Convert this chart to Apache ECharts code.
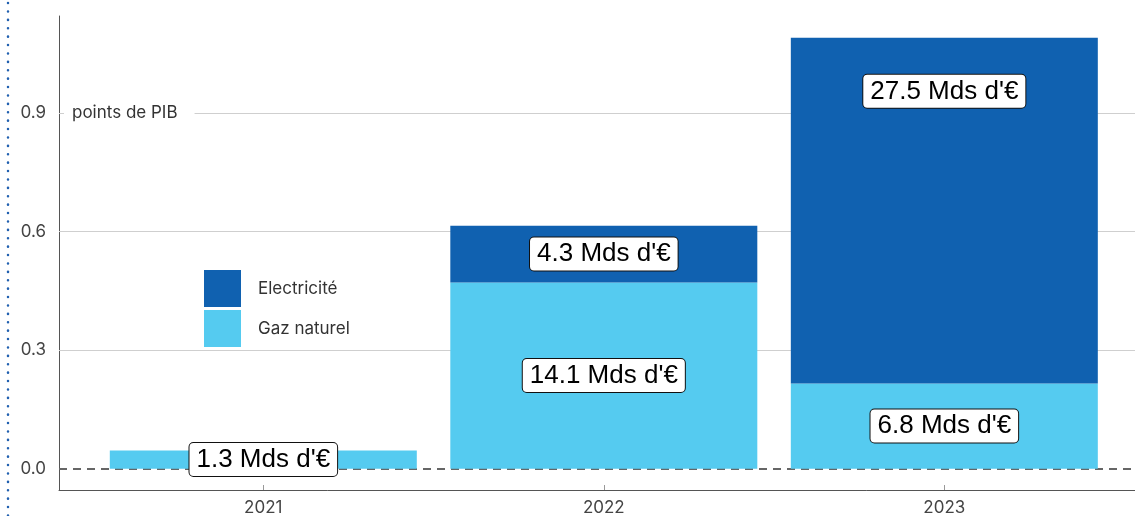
<!DOCTYPE html>
<html>
<head>
<meta charset="utf-8">
<script src="https://cdn.jsdelivr.net/npm/echarts@6/dist/echarts.min.js"></script>
<style>
html,body{margin:0;padding:0;background:#fff;}
#chart{width:1135px;height:516px;}
</style>
</head>
<body>
<div id="chart"></div>
<script>
// Coût des mesures, en points de PIB, par année
const years = ['2021', '2022', '2023'];
const gazValues = [0.046, 0.471, 0.2155];
const elecValues = [0, 0.1435, 0.8745];
const gazAmounts = ['1.3', '14.1', '6.8'];
const elecAmounts = [null, '4.3', '27.5'];
const yTicks = [0, 0.3, 0.6, 0.9];

const COLOR_ELEC = '#1061b0';
const COLOR_GAZ = '#55cbf0';
const FONT = 'Inter, Roboto, sans-serif';

const boxLabel = {
  show: true,
  position: 'inside',
  fontFamily: '"Liberation Sans", Arial, sans-serif',
  fontSize: 26,
  color: '#000',
  backgroundColor: '#fff',
  borderColor: '#111',
  borderWidth: 1,
  borderRadius: 4,
  padding: [4, 7, 3, 7]
};

// chaque point : [valeur, indice de l'année] ; la valeur est la première
// colonne pour que l'empilement se fasse sur l'axe vertical
function barData(values, amounts) {
  return values.map((v, i) => {
    const item = { value: [v, i] };
    if (amounts[i] == null || v === 0) {
      item.label = { show: false };
    } else {
      item.label = { formatter: amounts[i] + " Mds d'€" };
    }
    return item;
  });
}

const elecData = barData(elecValues, elecAmounts);
// la grande barre 2023 porte son étiquette en haut
elecData[2].label.position = 'insideTop';
elecData[2].label.distance = 37;

const chart = echarts.init(document.getElementById('chart'));

chart.setOption({
  animation: false,
  backgroundColor: '#fff',
  grid: { left: 59, right: 0, top: 16, bottom: 25, containLabel: false },
  legend: {
    orient: 'vertical',
    left: 204,
    top: 270,
    padding: 0,
    itemWidth: 37,
    itemHeight: 37,
    itemGap: 3,
    icon: 'rect',
    data: ['Electricité', 'Gaz naturel'],
    textStyle: { fontFamily: FONT, fontSize: 17, color: '#333', padding: [0, 0, 0, 12] }
  },
  xAxis: {
    type: 'value',
    min: -0.6,
    max: 2.56,
    splitLine: { show: false },
    axisLine: { show: true, onZero: false, lineStyle: { color: '#555', width: 1 } },
    axisTick: { show: true, inside: true, length: 5, customValues: [0, 1, 2], lineStyle: { color: '#999' } },
    axisLabel: {
      customValues: [0, 1, 2],
      formatter: v => years[Math.round(v)] || '',
      fontFamily: FONT, fontSize: 17, color: '#444', margin: 9
    }
  },
  yAxis: {
    type: 'value',
    min: -0.054,
    max: 1.145,
    splitLine: { show: false },
    axisLine: { show: true, onZero: false, lineStyle: { color: '#555', width: 1 } },
    axisTick: { show: true, inside: true, length: 4, customValues: yTicks, lineStyle: { color: '#777' } },
    axisLabel: {
      customValues: yTicks,
      formatter: v => v.toFixed(1),
      fontFamily: FONT, fontSize: 17, color: '#444', margin: 13
    }
  },
  series: [
    {
      name: 'Gaz naturel',
      type: 'bar',
      stack: 'total',
      barWidth: 307,
      encode: { x: 1, y: 0 },
      itemStyle: { color: COLOR_GAZ },
      label: boxLabel,
      data: barData(gazValues, gazAmounts),
      z: 3,
      markLine: {
        silent: true,
        symbol: 'none',
        label: { show: false },
        z: 1,
        lineStyle: { color: '#cfcfcf', width: 1, type: 'solid' },
        data: yTicks.filter(v => v !== 0).map(v => ({ yAxis: v }))
      }
    },
    {
      name: 'Electricité',
      type: 'bar',
      stack: 'total',
      barWidth: 307,
      encode: { x: 1, y: 0 },
      itemStyle: { color: COLOR_ELEC },
      label: boxLabel,
      data: elecData,
      z: 3,
      markLine: {
        silent: true,
        symbol: 'none',
        label: { show: false },
        z: 1,
        lineStyle: { color: '#666', width: 2, type: [8, 6] },
        data: [{ yAxis: 0 }]
      }
    }
  ]
});

// unité de l'axe vertical, posée sur la ligne 0.9
const unitPos = chart.convertToPixel({ yAxisIndex: 0 }, 0.9);
const axisX = chart.convertToPixel({ xAxisIndex: 0 }, -0.6);
chart.setOption({
  graphic: [
    {
      type: 'line',
      silent: true,
      shape: { x1: 8, y1: 3, x2: 8, y2: 516 },
      style: { stroke: '#2160b0', lineWidth: 2.5, lineDash: [0.1, 8.3], lineCap: 'round' }
    },
    {
      type: 'text',
      silent: true,
      z: 10,
      x: axisX + 5,
      y: unitPos,
      style: {
        text: 'points de PIB',
        fontFamily: FONT,
        fontSize: 17,
        fill: '#333',
        backgroundColor: '#fff',
        padding: [2, 17, 2, 8],
        verticalAlign: 'middle',
        align: 'left'
      }
    }
  ]
});
</script>
</body>
</html>
